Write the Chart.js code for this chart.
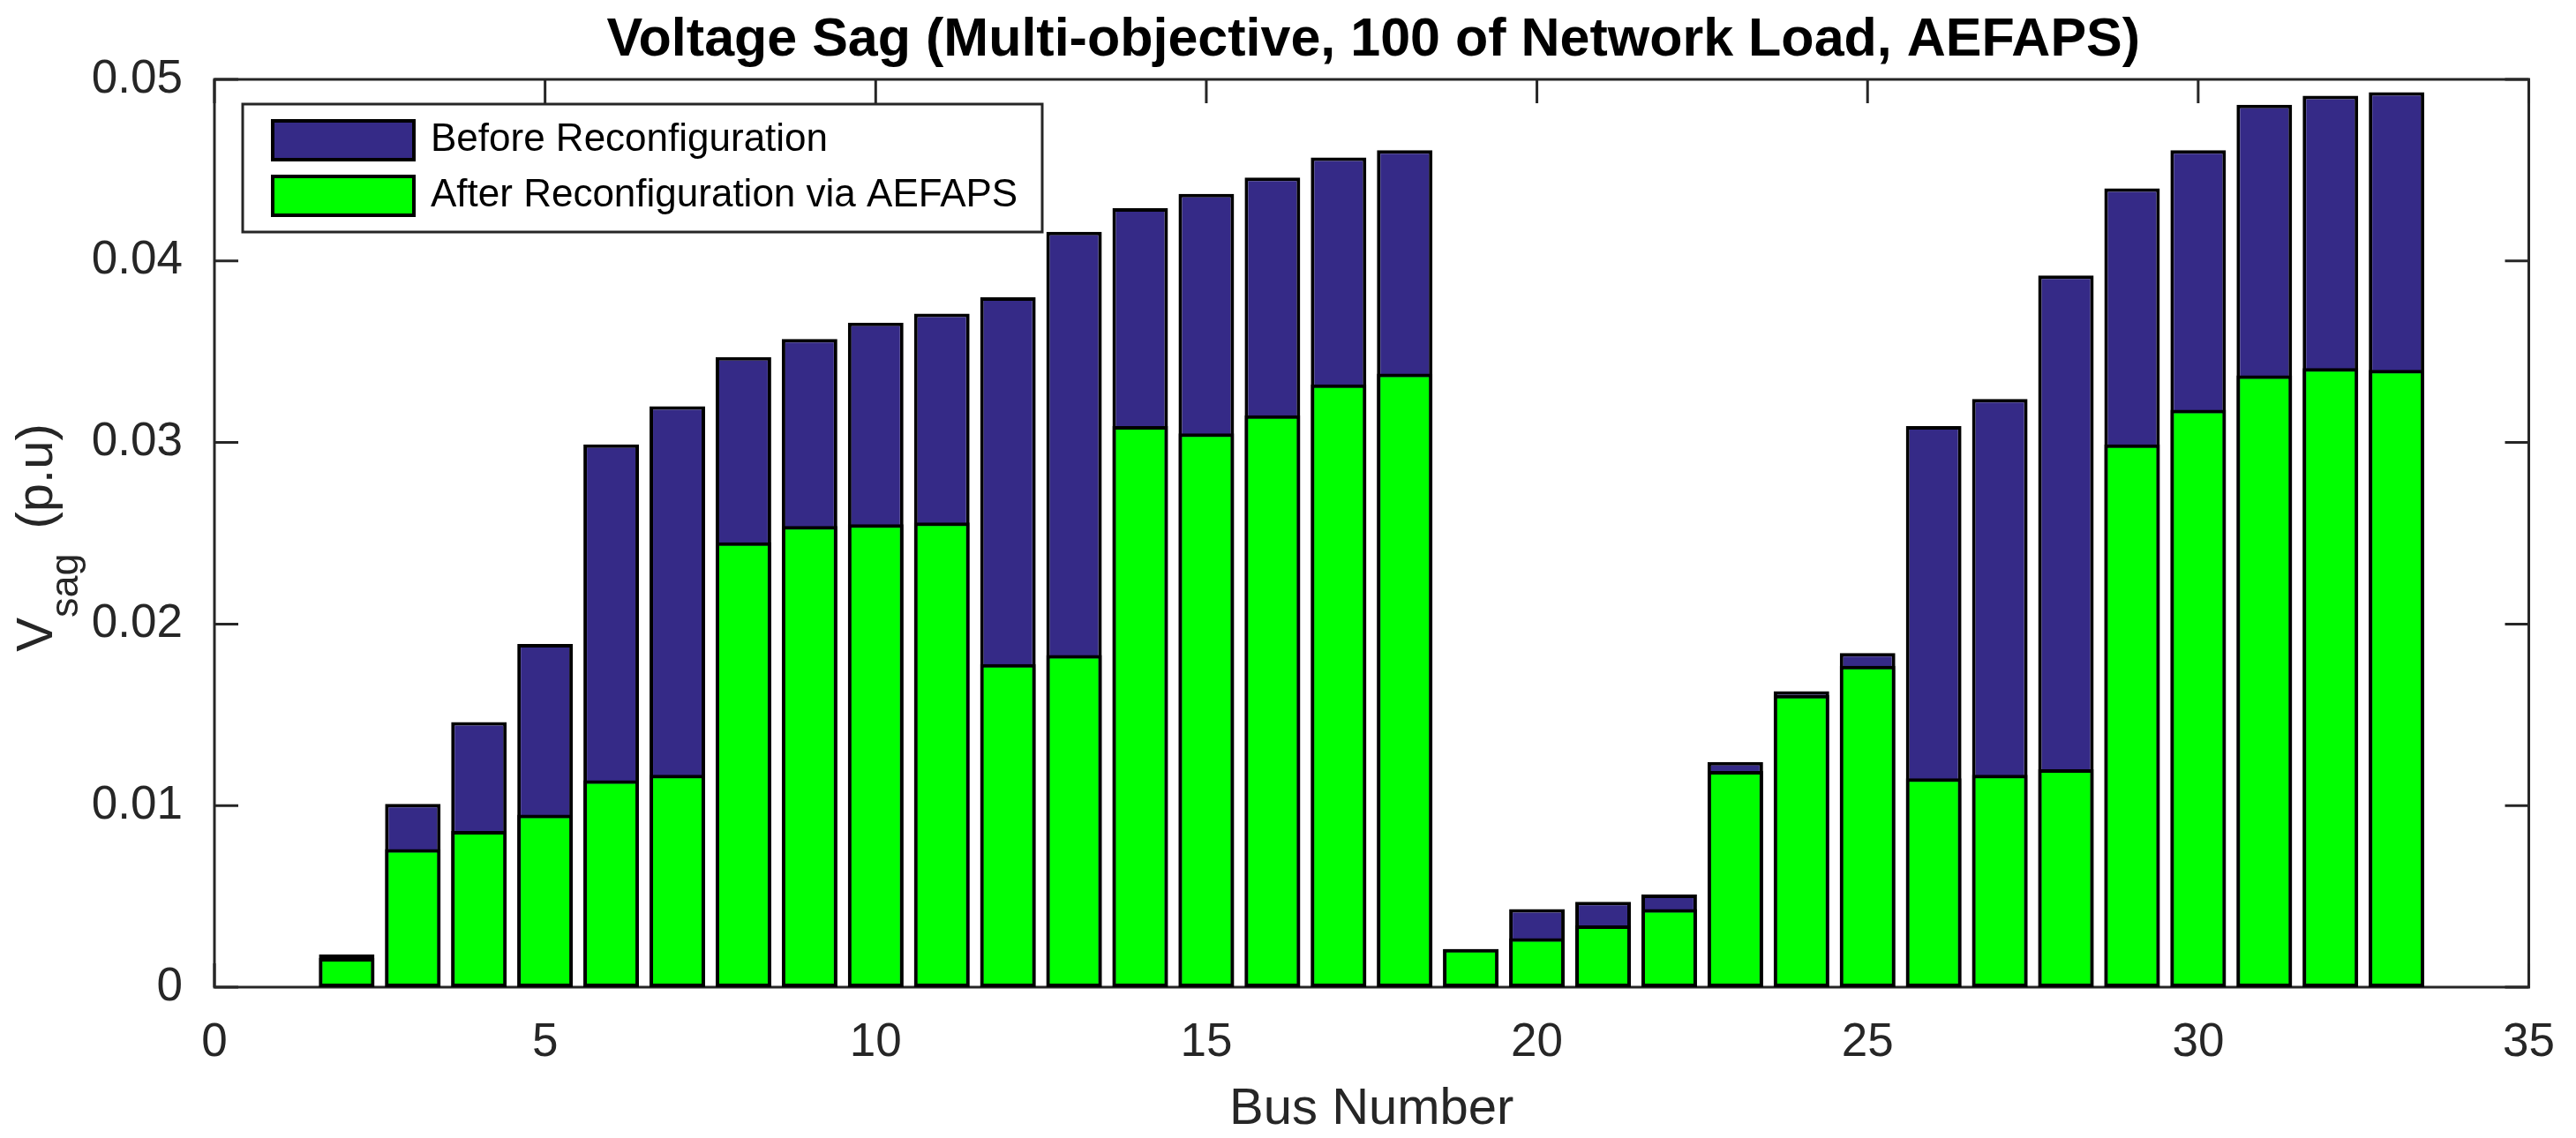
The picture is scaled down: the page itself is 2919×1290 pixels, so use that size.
<!DOCTYPE html>
<html>
<head>
<meta charset="utf-8">
<title>Voltage Sag</title>
<script src="https://cdn.jsdelivr.net/npm/chart.js@4.4.1/dist/chart.umd.min.js"></script>
<style>
  html, body { margin: 0; padding: 0; background: #fff; }
  #wrap { width: 2919px; height: 1290px; }
</style>
</head>
<body>
<div id="wrap"><canvas id="chart"></canvas></div>
<script>
// ---- data ----
const buses = [1, 2, 3, 4, 5, 6, 7, 8, 9, 10, 11, 12, 13, 14, 15, 16, 17,
               18, 19, 20, 21, 22, 23, 24, 25, 26, 27, 28, 29, 30, 31, 32, 33];
const sagBefore = [0, 0.0018, 0.0101, 0.0146, 0.0189, 0.0299, 0.0320, 0.0347, 0.0357, 0.0366, 0.0371,
                   0.0380, 0.0416, 0.0429, 0.0437, 0.0446, 0.0457, 0.0461, 0.0021, 0.0043, 0.0047,
                   0.0051, 0.0124, 0.0163, 0.0184, 0.0309, 0.0324, 0.0392, 0.0440, 0.0461, 0.0486,
                   0.0491, 0.0493];
const sagAfter = [0, 0.0016, 0.0076, 0.0086, 0.0095, 0.0114, 0.0117, 0.0245, 0.0254, 0.0255, 0.0256,
                  0.0178, 0.0183, 0.0309, 0.0305, 0.0315, 0.0332, 0.0338, 0.0021, 0.0027, 0.0034,
                  0.0043, 0.0119, 0.0161, 0.0177, 0.0115, 0.0117, 0.0120, 0.0299, 0.0318, 0.0337,
                  0.0341, 0.0340];
const seriesNames = ['Before Reconfiguration', 'After Reconfiguration via AEFAPS'];
const xRange = [0, 35], xStep = 5;
const yRange = [0, 0.05], yStep = 0.01;

const FONT = '"Liberation Sans", Arial, sans-serif';
const AX = '#262626';
const TICK = 27;

// box round the axes + inward ticks on all four sides (MATLAB look)
const frame = {
  id: 'frame',
  beforeDatasetsDraw(chart) {
    const { ctx, chartArea: a, scales: { x, y } } = chart;
    ctx.save();
    ctx.strokeStyle = AX; ctx.lineWidth = 3;
    ctx.strokeRect(a.left, a.top, a.right - a.left, a.bottom - a.top);
    ctx.beginPath();
    x.ticks.forEach(t => {
      const px = x.getPixelForValue(t.value);
      ctx.moveTo(px, a.bottom); ctx.lineTo(px, a.bottom - TICK);
      ctx.moveTo(px, a.top); ctx.lineTo(px, a.top + TICK);
    });
    y.ticks.forEach(t => {
      const py = y.getPixelForValue(t.value);
      ctx.moveTo(a.left, py); ctx.lineTo(a.left + TICK, py);
      ctx.moveTo(a.right, py); ctx.lineTo(a.right - TICK, py);
    });
    ctx.stroke();
    ctx.restore();
  }
};

// title, y label with subscript, boxed legend
const texts = {
  id: 'texts',
  afterDraw(chart) {
    const { ctx, chartArea: a } = chart;
    ctx.save();
    // title
    ctx.fillStyle = '#000';
    ctx.font = 'bold 61px ' + FONT;
    ctx.textAlign = 'center'; ctx.textBaseline = 'alphabetic';
    ctx.fillText('Voltage Sag (Multi-objective, 100 of Network Load, AEFAPS)', (a.left + a.right) / 2 + 2, 63);

    // y label: V_sag (p.u)
    ctx.fillStyle = AX;
    ctx.textAlign = 'left';
    const big = '58px ' + FONT, small = '45px ' + FONT;
    ctx.font = big; const wV = ctx.measureText('V').width, wP = ctx.measureText('(p.u)').width;
    ctx.font = small; const wS = ctx.measureText('sag').width;
    const gap = 28, total = wV + wS + gap + wP;
    ctx.translate(59, (a.top + a.bottom) / 2 + 5);
    ctx.rotate(-Math.PI / 2);
    let cx = -total / 2;
    ctx.font = big; ctx.fillText('V', cx, 0); cx += wV;
    ctx.font = small; ctx.fillText('sag', cx, 29); cx += wS + gap;
    ctx.font = big; ctx.fillText('(p.u)', cx, 0);
    ctx.setTransform(1, 0, 0, 1, 0, 0);

    // legend
    const lx = 275, ly = 118, lw = 906, lh = 145;
    ctx.fillStyle = '#fff'; ctx.fillRect(lx, ly, lw, lh);
    ctx.strokeStyle = AX; ctx.lineWidth = 3; ctx.strokeRect(lx, ly, lw, lh);
    ctx.font = '44px ' + FONT; ctx.textBaseline = 'middle';
    seriesNames.forEach((name, i) => {
      const ds = chart.data.datasets.find(d => d.label === name);
      const sy = 137 + i * 63;
      ctx.fillStyle = ds.backgroundColor; ctx.fillRect(309, sy, 160, 44);
      ctx.strokeStyle = '#000'; ctx.lineWidth = 4; ctx.strokeRect(309, sy, 160, 44);
      ctx.fillStyle = '#000'; ctx.fillText(name, 488, sy + 22);
    });
    ctx.restore();
  }
};

const pts = vals => buses.map((b, i) => ({ x: b, y: vals[i] }));

new Chart(document.getElementById('chart'), {
  type: 'bar',
  data: {
    datasets: [
      { label: seriesNames[0], data: pts(sagBefore), backgroundColor: '#352A87', order: 1 },
      { label: seriesNames[1], data: pts(sagAfter), backgroundColor: '#00FF00', order: 0 }
    ]
  },
  options: {
    responsive: true, maintainAspectRatio: false, animation: false,
    layout: { padding: { top: 90, right: 34, left: 0, bottom: 0 } },
    datasets: {
      bar: { grouped: false, barPercentage: 0.84, categoryPercentage: 1,
             borderColor: '#000', borderWidth: 4, borderSkipped: false }
    },
    plugins: { legend: { display: false }, tooltip: { enabled: false }, title: { display: false } },
    scales: {
      x: {
        type: 'linear', min: xRange[0], max: xRange[1], offset: false,
        grid: { display: false, offset: false }, border: { display: false },
        ticks: { stepSize: xStep, color: AX, padding: 24, font: { family: FONT, size: 53 } },
        title: { display: true, text: 'Bus Number', color: AX, padding: 0,
                 font: { family: FONT, size: 58, lineHeight: 1.1 } },
        afterFit(s) { s.height = 171; }
      },
      y: {
        min: yRange[0], max: yRange[1],
        grid: { display: false }, border: { display: false },
        ticks: { stepSize: yStep, color: AX, padding: 28, font: { family: FONT, size: 53 } },
        afterFit(s) { s.width = 243; }
      }
    }
  },
  plugins: [frame, texts]
});
</script>
</body>
</html>
